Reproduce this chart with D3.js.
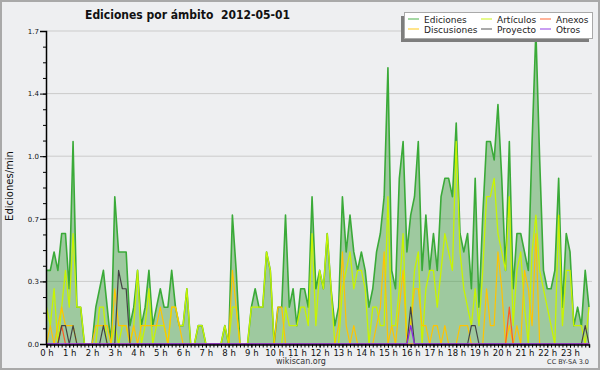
<!DOCTYPE html>
<html>
<head>
  <meta charset="utf-8">
  <title>Ediciones por ámbito</title>
  <script src="https://cdn.jsdelivr.net/npm/d3@7"></script>
  <style>
    body { margin: 0; background: #fff; }
    svg text { font-family: "DejaVu Sans", sans-serif; fill: #111; }
  </style>
</head>
<body>
<div id="grafico"></div>
<script>
"use strict"

// ediciones por minuto, en intervalos de 10 minutos (144 por dia)
var horas = ["0 h","1 h","2 h","3 h","4 h","5 h","6 h","7 h","8 h","9 h","10 h","11 h",
             "12 h","13 h","14 h","15 h","16 h","17 h","18 h","19 h","20 h","21 h","22 h","23 h"];

var yTicks = [0, 0.34, 0.68, 1.02, 1.36, 1.7];

var ediciones = [
  0.4,0.4,0.5,0.4,0.6,0.6,0.3,1.1,0.2,0.2,0,0,
  0,0.2,0.3,0.4,0.2,0,0.8,0.5,0.5,0.5,0.1,0.2,
  0.4,0.1,0.2,0.4,0.1,0.2,0.3,0.2,0.2,0.4,0.2,0.1,
  0.1,0.3,0,0,0.1,0.1,0,0,0,0,0,0.1,
  0,0.7,0.4,0,0,0,0.2,0.3,0.2,0.2,0.5,0.4,
  0,0.2,0.2,0.7,0.2,0.3,0.1,0.3,0.3,0.2,0.8,0.3,
  0.4,0.3,0.6,0.3,0.1,0.2,0.8,0.5,0.7,0.5,0.4,0.5,
  0.4,0.2,0.3,0.5,0.6,0.8,1.5,0.4,0.3,0.9,1.1,0.5,
  0.7,0.8,1.1,0.4,0.7,0.4,0.6,0.4,0.8,0.9,0.9,0.8,
  1.2,0.6,0.5,0.6,0.3,0.9,0.2,0.7,1.1,1.1,1.0,1.3,
  0.9,0.4,1.1,0.3,0.6,0.6,0.5,0.4,1.1,1.7,1.0,0.4,
  0.3,0.3,0.4,0.9,0.2,0.6,0.5,0.1,0.2,0.1,0.4,0.2
];

var articulos = [
  0.2,0.1,0.3,0,0.2,0.4,0.2,0.6,0.2,0.2,0,0,
  0,0,0.2,0.2,0,0,0.1,0,0.1,0.1,0,0.1,
  0.4,0,0.1,0.3,0,0.1,0.1,0.1,0,0.2,0.2,0.1,
  0.1,0.3,0,0,0.1,0.1,0,0,0,0,0,0.1,
  0,0.2,0.2,0,0,0,0.2,0.2,0.2,0.2,0.5,0.4,
  0,0,0,0.2,0.1,0.1,0.1,0.2,0.2,0.1,0.6,0.1,
  0.4,0.3,0.6,0.3,0,0,0.3,0.4,0.5,0.3,0.4,0.4,
  0.3,0,0.2,0.2,0.1,0.1,0.8,0.1,0.1,0.3,0.6,0,
  0.1,0.4,0.5,0,0.3,0.4,0.4,0.2,0.4,0.6,0.5,0.4,
  1.1,0.5,0.3,0.2,0.1,0.3,0.1,0.4,0.8,0.8,0.9,0.6,
  0.5,0.4,0.8,0.1,0.4,0.5,0.2,0,0.5,0.7,0.4,0.3,
  0.2,0.1,0,0.7,0.1,0.4,0.4,0.1,0.1,0.1,0,0.2
];

var discusiones = [
  0,0.1,0,0.1,0.2,0.1,0.1,0.1,0,0,0,0,
  0,0.1,0.1,0.1,0.1,0,0.3,0.1,0.1,0.1,0,0.1,
  0,0.1,0.1,0.1,0.1,0.1,0.2,0.1,0,0.2,0.2,0.1,
  0,0,0,0,0,0,0,0,0,0,0,0,
  0,0.4,0.2,0,0,0,0,0,0,0,0,0,
  0,0.2,0.2,0,0,0,0,0,0,0,0,0,
  0,0,0,0,0,0.1,0.5,0.1,0,0.1,0,0,
  0,0,0,0.1,0.2,0.5,0,0.1,0,0.2,0.4,0,
  0.1,0.3,0.3,0.1,0.1,0,0.1,0.1,0,0.1,0,0,
  0,0.1,0.1,0.1,0,0,0,0,0.3,0.1,0.1,0.5,
  0.3,0,0.1,0,0.1,0,0.4,0.3,0.1,0.6,0,0,
  0,0,0,0,0,0,0,0,0,0,0,0
];

var anexos = [
  0,0,0,0,0.1,0,0,0,0,0,0,0,
  0,0,0,0,0,0,0,0,0,0,0,0,
  0,0,0,0,0,0,0,0,0,0,0,0,
  0,0,0,0,0,0,0,0,0,0,0,0,
  0,0,0,0,0,0,0,0,0,0,0,0,
  0,0,0,0,0,0,0,0,0,0,0,0,
  0,0,0,0,0,0,0,0,0,0,0,0,
  0,0,0,0,0,0,0,0,0,0,0,0,
  0,0,0,0,0,0,0,0,0,0,0,0,
  0,0,0,0,0,0,0,0,0,0,0,0,
  0,0,0.2,0,0,0,0,0,0,0,0,0,
  0,0,0,0,0,0,0,0,0,0,0,0
];

var proyecto = [
  0,0,0,0,0.1,0.1,0,0.1,0,0,0,0,
  0,0,0,0.1,0,0,0,0.4,0.3,0.3,0,0,
  0,0,0,0,0,0,0,0,0,0,0,0,
  0,0,0,0,0,0,0,0,0,0,0,0,
  0,0,0,0,0,0,0,0,0,0,0,0,
  0,0,0,0,0,0,0,0,0,0,0,0,
  0,0,0,0,0,0,0,0,0,0,0,0,
  0,0,0,0,0,0,0,0,0,0,0,0,
  0.2,0,0,0,0,0,0,0,0,0,0,0,
  0,0,0,0,0.1,0.1,0,0,0,0,0,0,
  0,0,0,0,0,0,0,0,0,0,0,0,
  0,0,0,0,0,0,0,0,0,0,0.1,0
];

var otros = [
  0,0,0,0,0,0,0,0,0,0,0,0,
  0,0,0,0,0,0,0,0,0,0,0,0,
  0,0,0,0,0,0,0,0,0,0,0,0,
  0,0,0,0,0,0,0,0,0,0,0,0,
  0,0,0,0,0,0,0,0,0,0,0,0,
  0,0,0,0,0,0,0,0,0,0,0,0,
  0,0,0,0,0,0,0,0,0,0,0,0,
  0,0,0,0,0,0,0,0,0,0,0,0,
  0.1,0,0,0,0,0,0,0,0,0,0,0,
  0,0,0,0,0,0,0,0,0,0,0,0,
  0,0,0,0,0,0,0,0,0,0,0,0,
  0,0,0,0,0,0,0,0,0,0,0,0
];

var nombres = ["Ediciones", "Artículos", "Anexos", "Discusiones", "Proyecto", "Otros"];
var colores = ["#3aaa38", "#c8f400", "#ff5a22", "#ffc400", "#444444", "#8a2be2"];

function dibuja() {
  var ancho = 600, alto = 370;
  var izq = 46.5, der = 589, arriba = 31, abajo = 344;

  var svg = d3.select('#grafico').append('svg')
      .attr('width', ancho)
      .attr('height', alto);

  // fondo y marco
  svg.append('rect')
      .attr('x', 1).attr('y', 1)
      .attr('width', ancho - 2).attr('height', alto - 2)
      .attr('fill', '#eeeff1')
      .attr('stroke', '#a9a9a9')
      .attr('stroke-width', 2);

  var x = d3.scaleLinear().domain([0, 143 / 6]).range([izq, der]);
  var y = d3.scaleLinear().domain([0, 1.7]).range([abajo, arriba]);
  var t = function(d, i) { return x(i / 6); };

  // lineas de la grilla
  svg.append('g').selectAll('line')
      .data(yTicks.slice(1))
      .enter().append('line')
      .attr('x1', izq).attr('x2', 592)
      .attr('y1', d => y(d)).attr('y2', d => y(d))
      .attr('stroke', '#cbcbcb')
      .attr('stroke-width', 1);

  var area = d3.area().x(t).y0(y(0)).y1(d => y(d));
  svg.append('path')
      .datum(ediciones)
      .attr('d', area)
      .attr('fill', '#3c9c3c')
      .attr('fill-opacity', 0.45);

  var linea = d3.line().x(t).y(d => y(d));
  var series = [ediciones, articulos, anexos, discusiones, proyecto, otros];
  var grosor = [1.6, 1.3, 1.2, 1.2, 1.2, 1.3];
  var orden = [0, 1, 3, 2, 4, 5];
  orden.forEach(function(k) {
    svg.append('path')
        .datum(series[k])
        .attr('d', linea)
        .attr('fill', 'none')
        .attr('stroke', colores[k])
        .attr('stroke-width', grosor[k])
        .attr('stroke-linejoin', 'round');
  });

  // eje y
  var ejeY = svg.append('g')
      .attr('transform', 'translate(' + (izq - 0.5) + ',0)')
      .call(d3.axisLeft(y).tickValues(yTicks).tickFormat(d3.format('.1f')).tickSize(6).tickPadding(1));
  ejeY.select('.domain').attr('stroke', '#000').attr('stroke-width', 1.5);
  ejeY.selectAll('text').style('font-size', '7px');

  svg.append('g')
      .attr('transform', 'translate(' + (izq - 0.5) + ',0)')
      .call(d3.axisLeft(y).tickValues(d3.range(0, 1.7001, 0.085)).tickFormat('').tickSize(3))
      .select('.domain').remove();

  // eje x
  var ejeX = svg.append('g')
      .attr('transform', 'translate(0,' + (abajo + 0.5) + ')')
      .call(d3.axisBottom(x).tickValues(d3.range(0, 24)).tickFormat((d, i) => horas[i]).tickSize(3).tickPadding(2));
  ejeX.select('.domain').attr('stroke', '#000').attr('stroke-width', 1.5);
  ejeX.selectAll('text').style('font-size', '8.5px');

  svg.append('g')
      .attr('transform', 'translate(0,' + (abajo + 0.5) + ')')
      .call(d3.axisBottom(x).tickValues(d3.range(0, 144).map(i => i / 6)).tickFormat('').tickSize(3))
      .select('.domain').remove();

  // titulos
  svg.append('text')
      .attr('x', 85).attr('y', 18.5)
      .attr('textLength', 205)
      .attr('lengthAdjust', 'spacingAndGlyphs')
      .style('white-space', 'pre')
      .style('font-size', '13px')
      .style('font-weight', 'bold')
      .text('Ediciones por ámbito  2012-05-01');

  svg.append('text')
      .attr('transform', 'translate(13,186) rotate(-90)')
      .attr('text-anchor', 'middle')
      .style('font-size', '10px')
      .text('Ediciones/min');

  svg.append('text')
      .attr('x', 301).attr('y', 364)
      .attr('text-anchor', 'middle')
      .style('font-size', '8px')
      .style('fill', '#333')
      .text('wikiscan.org');

  svg.append('text')
      .attr('x', 589).attr('y', 364)
      .attr('text-anchor', 'end')
      .style('font-size', '6.5px')
      .style('fill', '#333')
      .text('CC BY-SA 3.0');

  // leyenda
  var leyenda = svg.append('g');
  leyenda.append('rect')
      .attr('x', 401).attr('y', 16).attr('width', 188).attr('height', 26)
      .attr('fill', '#7d7d7d');
  leyenda.append('rect')
      .attr('x', 404.5).attr('y', 12.5).attr('width', 188).attr('height', 26)
      .attr('fill', '#fff')
      .attr('stroke', '#a9a9a9');

  var colX = [408, 481, 540];
  nombres.forEach(function(n, i) {
    var cx = colX[i % 3], fy = 19 + 10 * Math.floor(i / 3);
    leyenda.append('line')
        .attr('x1', cx).attr('x2', cx + 11)
        .attr('y1', fy).attr('y2', fy)
        .attr('stroke', colores[i])
        .attr('stroke-opacity', 0.7)
        .attr('stroke-width', 1.3);
    leyenda.append('text')
        .attr('x', cx + 16).attr('y', fy + 3.5)
        .style('font-size', '9px')
        .style('fill', '#222')
        .text(n);
  });
}

dibuja();
</script>
</body>
</html>
